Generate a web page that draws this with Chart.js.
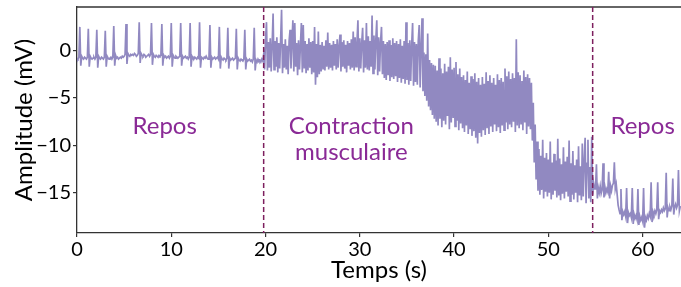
<!DOCTYPE html>
<html>
<head>
<meta charset="utf-8">
<script src="https://cdn.jsdelivr.net/npm/chart.js@4.4.1/dist/chart.umd.min.js"></script>
<style>
  html, body { margin: 0; padding: 0; background: #fff; }
  #wrap { width: 681px; height: 287px; }
</style>
</head>
<body>
<div id="wrap"><canvas id="chart" width="681" height="287"></canvas></div>
<script>
const sampleStep = 0.1;

// 0.0 s -> 19.9 s
const reposAvant = [
  -0.8, -0.9, -0.7, 2.5, -1.6, -0.6, -0.8, -0.9, -0.7, -0.8,
  -0.9, -0.7, 2.3, -1.7, -0.6, -0.8, -0.9, -0.8, -0.7, -0.9,
  -0.7, 2.2, -1.8, -0.6, -0.8, -0.9, -0.7, -0.8, -0.9, -0.7,
  2.1, -1.7, -0.6, -0.8, -0.9, -0.8, -0.7, -0.9, -0.7, 2.6,
  -1.6, -0.5, -0.8, -0.7, -0.9, -0.8, -0.7, -0.8, -0.6, -0.7,
  -0.6, -0.4, 2.8, -1.4, -0.3, -0.5, -0.6, -0.4, -0.5, -0.4,
  -0.5, -0.3, -0.4, -0.6, -0.5, -0.3, 3.0, -1.3, -0.3, -0.5,
  -0.6, -0.4, -0.5, -0.7, -0.6, -0.5, -0.4, -0.6, -0.4, 2.9,
  -1.5, -0.4, -0.6, -0.7, -0.5, -0.6, -0.7, -0.5, -0.6, -0.5,
  2.8, -1.6, -0.5, -0.7, -0.6, -0.8, -0.7, -0.6, -0.8, -0.6,
  2.9, -1.7, -0.5, -0.7, -0.8, -0.6, -0.7, -0.8, -0.7, -0.6,
  2.9, -1.6, -0.6, -0.8, -0.7, -0.6, -0.8, -0.7, -0.9, -0.7,
  2.9, -1.7, -0.6, -0.8, -0.9, -0.7, -0.8, -0.9, -0.7, -0.8,
  3.0, -1.8, -0.7, -0.8, -0.9, -0.7, -0.8, -0.6, -0.8, -0.9,
  -0.7, 2.7, -1.8, -0.7, -0.9, -0.8, -0.7, -0.9, -0.8, -0.7,
  -0.9, 2.5, -1.9, -0.7, -0.9, -1.0, -0.8, -0.9, -1.0, -0.8,
  2.4, -1.9, -0.8, -1.0, -0.9, -0.8, -1.0, -0.9, -0.8, 2.3,
  -2.0, -0.8, -1.0, -1.1, -0.9, -1.0, -1.1, -0.9, 2.2, -2.0,
  -0.9, -1.1, -1.0, -0.9, -1.1, -1.0, -1.2, -0.9, 2.4, -2.1,
  -1.0, -1.2, -0.9, -1.1, -1.0, -1.2, -0.9, -1.1, -0.4, -2.0
];

// 20.0 s -> 54.9 s
const contraction = [
  1.2, 3.0, -2.1, 0.9, -1.8, 1.3, -2.2, 0.6, 3.9, -2.0,
  1.0, -1.7, 1.4, -2.3, 0.8, -1.9, 1.1, 4.3, -2.4, 0.7,
  -1.8, 1.2, -2.0, 0.5, -2.5, 1.0, 2.2, -1.9, 0.9, 3.2,
  -2.2, 2.9, -1.7, 0.8, -2.6, 1.1, -2.0, 0.6, 2.9, -2.3,
  2.7, -1.9, 1.0, -2.4, 0.7, -2.1, 1.3, -1.8, 0.9, -2.5,
  1.0, -2.3, 2.5, -3.6, 0.7, -2.8, 2.0, -2.5, 0.6, -2.2,
  0.9, -1.9, 0.5, -2.1, 1.1, -1.7, 1.9, -2.0, 0.8, -1.8,
  0.6, -2.1, 1.0, -1.6, 0.7, -2.0, 1.2, -1.8, 0.5, 1.7,
  -2.2, 0.9, -1.7, 1.1, -1.9, 0.6, -2.3, 1.0, -1.6, 0.8,
  -2.0, 1.2, -1.8, 2.0, -2.1, 1.4, -1.7, 0.9, 3.2, -2.2,
  1.3, -1.9, 0.8, 2.4, -2.3, 1.1, -1.8, 2.9, -2.0, 1.5,
  -2.1, 1.0, -1.7, 3.7, -2.4, 1.6, -2.0, 1.2, 3.2, -2.6,
  1.4, -2.2, 0.9, 2.5, -2.5, 1.0, -2.9, 0.7, -3.1, 0.9,
  -2.6, 1.1, -3.2, 0.6, -2.8, 1.3, -3.0, 0.8, -2.7, 1.0,
  -3.3, 0.7, -2.9, 1.2, -3.4, 0.5, -3.0, 1.0, -3.5, 3.0,
  -3.1, 0.8, -3.6, 1.1, -3.2, 0.6, 2.9, -3.7, 0.9, -3.3,
  0.7, -3.6, 1.0, 2.7, -3.9, 0.4, 3.4, -4.3, -0.2, -4.8,
  -0.4, -5.3, 1.8, -5.9, -1.0, -6.3, -1.3, -6.8, -1.5, -7.2,
  -1.6, -7.5, -2.1, -7.9, -0.8, -7.2, -1.9, -8.1, -2.4, -7.4,
  -1.4, -7.8, -2.2, -6.9, -1.7, -8.3, -0.7, -7.6, -2.0, -7.1,
  -1.8, -8.0, -1.2, -7.4, -2.5, -8.4, -1.9, -7.7, -2.8, -8.2,
  -2.6, -8.6, -3.1, -7.9, -2.2, -8.8, -3.4, -8.3, -2.7, -9.0,
  -3.0, -8.5, -2.4, -9.2, -3.3, -9.8, -2.9, -8.7, -3.6, -9.1,
  -2.8, -8.4, -3.5, -8.9, -2.3, -8.2, -3.2, -8.8, -2.6, -8.0,
  -3.4, -8.6, -2.9, -7.8, -3.6, -8.5, -2.5, -8.1, -3.1, -8.7,
  -2.9, -7.9, -3.3, -8.4, -1.9, -7.6, -2.7, -8.3, -2.2, -7.8,
  -3.0, -8.1, -2.4, -7.5, -2.9, -8.6, 1.2, -7.9, -2.3, -8.2,
  -2.6, -7.7, -3.2, -8.4, -2.1, -7.6, -2.8, -8.8, -2.5, -8.0,
  -2.9, -8.3, -3.4, -9.5, -5.5, -11.8, -7.8, -13.6, -9.6, -14.8,
  -10.4, -15.2, -11.1, -14.7, -9.4, -15.6, -11.3, -14.9, -10.8, -15.4,
  -11.5, -15.0, -9.6, -15.7, -11.8, -15.2, -10.9, -14.8, -11.6, -15.5,
  -9.3, -15.3, -11.4, -15.8, -12.0, -15.1, -10.2, -15.6, -11.7, -14.9,
  -11.2, -15.4, -9.5, -15.9, -11.9, -15.2, -10.6, -15.7, -12.1, -15.0,
  -11.5, -16.0, -10.1, -15.3, -12.2, -15.8, -9.8, -15.4, -11.7, -9.2,
  -16.1, -11.9, -9.4, -15.6, -12.3, -16.0, -9.1, -15.2, -14.0, -14.6
];

// 55.0 s -> 64.0 s
const reposApres = [
  -14.6, -12.0, -15.6, -14.5, -15.0, -14.3, -15.1, -14.7, -11.9, -15.5,
  -14.4, -15.0, -14.6, -14.9, -12.8, -15.6, -14.3, -14.8, -14.2, -14.0,
  -11.8, -14.6, -14.1, -15.2, -16.3, -16.8, -17.2, -14.6, -17.9, -17.0,
  -17.3, -17.0, -17.5, -14.5, -18.2, -17.1, -17.4, -17.2, -17.6, -14.5,
  -18.3, -17.3, -17.7, -17.4, -17.8, -14.6, -18.4, -17.5, -17.9, -17.6,
  -18.0, -14.5, -18.7, -17.6, -17.9, -17.4, -17.7, -17.2, -17.5, -13.9,
  -18.1, -17.0, -17.3, -16.9, -17.2, -16.8, -13.9, -17.8, -16.9, -17.1,
  -16.8, -17.0, -16.6, -16.9, -16.7, -12.9, -17.6, -16.6, -16.9, -16.5,
  -16.8, -16.4, -13.5, -17.3, -16.5, -16.2, -16.6, -16.3, -12.6, -16.9,
  -16.4
];

const phaseBounds = [19.8, 54.7];
const xTicks = [0, 10, 20, 30, 40, 50, 60];
const yTicks = [-15, -10, -5, 0];

const amplitude = reposAvant.concat(contraction, reposApres);
const points = amplitude.map((v, i) => ({ x: +(i * sampleStep).toFixed(1), y: v }));

const fontFamily = 'Lato, "Open Sans", sans-serif';
const labelColor = '#8a2a96';

const phasePlugin = {
  id: 'phases',
  afterDatasetsDraw(chart) {
    const { ctx, chartArea, scales } = chart;
    ctx.save();
    // bord supérieur du cadre
    ctx.strokeStyle = '#333';
    ctx.lineWidth = 1.3;
    ctx.beginPath();
    ctx.moveTo(chartArea.left, chartArea.top);
    ctx.lineTo(chartArea.right, chartArea.top);
    ctx.stroke();

    // séparations des phases
    ctx.strokeStyle = '#7d1f5e';
    ctx.lineWidth = 1.5;
    ctx.setLineDash([5, 3]);
    phaseBounds.forEach(t => {
      const px = scales.x.getPixelForValue(t);
      ctx.beginPath();
      ctx.moveTo(px, chartArea.top);
      ctx.lineTo(px, chartArea.bottom);
      ctx.stroke();
    });
    ctx.setLineDash([]);

    // textes des phases
    ctx.fillStyle = labelColor;
    ctx.font = '24px ' + fontFamily;
    ctx.textAlign = 'center';
    ctx.textBaseline = 'middle';
    const put = (txt, x, y) => ctx.fillText(txt, scales.x.getPixelForValue(x), scales.y.getPixelForValue(y));
    put('Repos', 9.3, -8.0);
    put('Contraction', 29.1, -8.0);
    put('musculaire', 29.1, -10.7);
    put('Repos', 60.0, -8.0);
    ctx.restore();
  }
};

new Chart(document.getElementById('chart').getContext('2d'), {
  type: 'line',
  data: {
    datasets: [{
      data: points,
      borderColor: '#9189c1',
      borderWidth: 1.7,
      pointRadius: 0,
      tension: 0,
      fill: false
    }]
  },
  options: {
    responsive: false,
    animation: false,
    events: [],
    parsing: false,
    layout: { padding: { top: 7, right: 0, left: 0, bottom: 0 } },
    plugins: {
      legend: { display: false },
      tooltip: { enabled: false }
    },
    scales: {
      x: {
        type: 'linear',
        min: 0,
        max: 64.07,
        afterBuildTicks: s => { s.ticks = xTicks.map(v => ({ value: v })); },
        afterFit: s => { s.height = 54; s.paddingRight = 0; },
        grid: { drawOnChartArea: false, tickLength: 4, color: '#333', lineWidth: 1.2 },
        border: { color: '#333', width: 1.3 },
        ticks: { font: { family: fontFamily, size: 20 }, color: '#000', padding: 1, maxRotation: 0 },
        title: {
          display: true, text: 'Temps (s)', color: '#000',
          font: { family: fontFamily, size: 24 },
          padding: { top: 0, bottom: 2 }
        }
      },
      y: {
        type: 'linear',
        min: -19.25,
        max: 4.6,
        afterBuildTicks: s => { s.ticks = yTicks.map(v => ({ value: v })); },
        afterFit: s => { s.width = 77; s.paddingTop = 0; s.paddingBottom = 0; },
        grid: { drawOnChartArea: false, tickLength: 4, color: '#333', lineWidth: 1.2 },
        border: { color: '#333', width: 1.3 },
        ticks: {
          font: { family: fontFamily, size: 20 }, color: '#000', padding: 2,
          callback: v => String(v).replace('-', '\u2212')
        },
        title: {
          display: true, text: 'Amplitude (mV)', color: '#000',
          font: { family: fontFamily, size: 24 },
          padding: { top: 10, bottom: 0 }
        }
      }
    }
  },
  plugins: [phasePlugin]
});
</script>
</body>
</html>
